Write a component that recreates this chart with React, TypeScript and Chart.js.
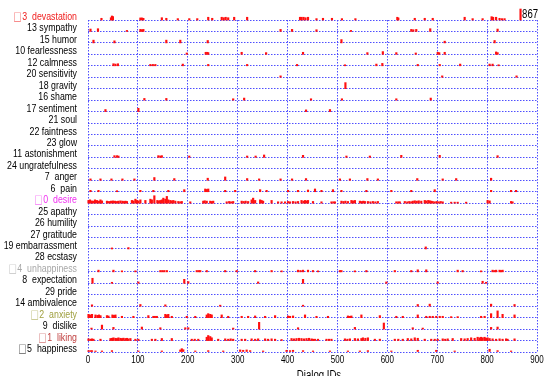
import { useEffect, useRef } from "react";
import { Chart, registerables } from "chart.js";

Chart.register(...registerables);

// Row labels, top to bottom
const emotionLabels: string[] = [
  "□3  devastation", "13 sympathy", "15 humor", "10 fearlessness", "12 calmness",
  "20 sensitivity", "18 gravity", "16 shame", "17 sentiment", "21 soul",
  "22 faintness", "23 glow", "11 astonishment", "24 ungratefulness", "7  anger",
  "6  pain", "□0  desire", "25 apathy", "26 humility", "27 gratitude",
  "19 embarrassment", "28 ecstasy", "□4  unhappiness", "8  expectation", "29 pride",
  "14 ambivalence", "□2  anxiety", "9  dislike", "□1  liking", "□5  happiness",
];
const labelColors: string[] = [
  "#f02020", "#000", "#000", "#000", "#000",
  "#000", "#000", "#000", "#000", "#000",
  "#000", "#000", "#000", "#000", "#000",
  "#000", "#f030f0", "#000", "#000", "#000",
  "#000", "#000", "#a8a8a8", "#000", "#000",
  "#000", "#a0a040", "#000", "#c04040", "#000",
];
const xTicks: number[] = [0, 100, 200, 300, 400, 500, 600, 700, 800, 900];
const xTitle = "Dialog IDs";
const lastDialogId = 867;
const lastMarkerHeight = 0.96;

// [dialog ID, intensity (fraction of row height)]
type Spike = [number, number];
const devastation: Spike[] = [[27,0.15],[46,0.2],[48,0.35],[50,0.3],[105,0.18],[108,0.18],[111,0.15],[148,0.2],[157,0.15],[180,0.12],[203,0.12],[219,0.12],[241,0.24],[249,0.15],[268,0.24],[272,0.2],[276,0.24],[281,0.2],[293,0.24],[319,0.24],[425,0.24],[428,0.24],[432,0.24],[436,0.2],[441,0.24],[458,0.12],[471,0.15],[489,0.15],[509,0.12],[536,0.12],[620,0.24],[622,0.18],[655,0.15],[675,0.15],[691,0.15],[755,0.24],[771,0.12],[791,0.12],[809,0.29],[812,0.24],[818,0.24],[825,0.15],[830,0.12],[835,0.12]];
const sympathy: Spike[] = [[5,0.21],[20,0.24],[78,0.09],[105,0.18],[108,0.15],[111,0.18],[386,0.18],[409,0.18],[458,0.15],[527,0.09],[648,0.18],[652,0.15],[658,0.18],[686,0.24],[821,0.21]];
const humor: Spike[] = [[11,0.24],[53,0.18],[157,0.24],[185,0.24],[240,0.21],[508,0.29],[715,0.15],[815,0.21]];
const fearlessness: Spike[] = [[198,0.12],[236,0.18],[239,0.18],[241,0.15],[308,0.18],[357,0.15],[431,0.18],[560,0.15],[591,0.24],[618,0.15],[657,0.12],[701,0.18],[704,0.15],[715,0.18],[818,0.21],[821,0.15]];
const calmness: Spike[] = [[51,0.18],[55,0.15],[60,0.18],[125,0.12],[130,0.12],[135,0.12],[190,0.15],[241,0.12],[319,0.12],[419,0.12],[515,0.09],[578,0.15],[590,0.21],[661,0.12],[705,0.12],[746,0.15],[805,0.15],[811,0.15],[823,0.09]];
const sensitivity: Spike[] = [[386,0.12],[710,0.12],[859,0.12]];
const gravity: Spike[] = [[516,0.53]];
const shame: Spike[] = [[113,0.15],[157,0.15],[291,0.12],[313,0.18],[447,0.12],[509,0.12],[618,0.12],[687,0.18]];
const sentiment: Spike[] = [[35,0.18],[101,0.29],[437,0.15],[485,0.18]];
const soul: Spike[] = [];
const faintness: Spike[] = [];
const glow: Spike[] = [];
const astonishment: Spike[] = [[53,0.15],[58,0.15],[61,0.12],[141,0.15],[145,0.12],[148,0.15],[203,0.12],[319,0.12],[336,0.12],[353,0.21],[431,0.18],[518,0.12],[565,0.12],[628,0.18],[705,0.18],[821,0.15]];
const ungratefulness: Spike[] = [];
const anger: Spike[] = [[5,0.12],[25,0.12],[47,0.12],[69,0.12],[93,0.12],[133,0.24],[173,0.15],[240,0.18],[275,0.29],[319,0.15],[343,0.12],[386,0.12],[409,0.12],[437,0.15],[505,0.12],[525,0.12],[560,0.15],[581,0.12],[660,0.15],[711,0.12],[738,0.15],[808,0.18]];
const pain: Spike[] = [[5,0.12],[21,0.12],[58,0.09],[105,0.12],[131,0.12],[161,0.12],[193,0.18],[235,0.24],[238,0.2],[241,0.24],[275,0.12],[295,0.12],[345,0.18],[358,0.12],[401,0.12],[421,0.12],[441,0.15],[455,0.24],[468,0.12],[491,0.18],[508,0.12],[558,0.12],[608,0.12],[648,0.12],[695,0.18],[808,0.12],[848,0.12],[858,0.12]];
const desire: Spike[] = [[1,0.24],[4,0.29],[7,0.2],[10,0.18],[14,0.29],[18,0.24],[22,0.18],[25,0.29],[28,0.2],[38,0.18],[42,0.15],[46,0.18],[50,0.2],[54,0.18],[58,0.15],[61,0.18],[65,0.2],[69,0.18],[72,0.15],[75,0.18],[78,0.15],[88,0.24],[91,0.2],[95,0.35],[98,0.24],[101,0.2],[105,0.29],[115,0.24],[125,0.35],[128,0.29],[133,0.65],[139,0.24],[142,0.2],[145,0.24],[148,0.29],[151,0.44],[155,0.35],[158,0.59],[161,0.29],[165,0.24],[168,0.2],[171,0.24],[175,0.18],[181,0.15],[185,0.12],[188,0.15],[205,0.12],[231,0.18],[234,0.21],[238,0.18],[245,0.18],[248,0.15],[251,0.18],[278,0.12],[283,0.15],[287,0.12],[291,0.15],[308,0.18],[312,0.15],[316,0.18],[321,0.15],[328,0.29],[331,0.44],[335,0.24],[345,0.29],[348,0.24],[351,0.18],[368,0.24],[381,0.12],[388,0.12],[395,0.12],[401,0.15],[405,0.12],[411,0.15],[416,0.12],[421,0.15],[428,0.24],[432,0.18],[435,0.24],[438,0.2],[441,0.24],[451,0.15],[468,0.12],[488,0.12],[492,0.12],[495,0.12],[508,0.18],[512,0.15],[516,0.18],[521,0.15],[528,0.24],[531,0.2],[535,0.24],[545,0.18],[549,0.15],[552,0.18],[555,0.15],[561,0.15],[566,0.12],[571,0.15],[576,0.12],[581,0.15],[618,0.12],[622,0.12],[625,0.12],[635,0.15],[640,0.12],[644,0.15],[648,0.12],[651,0.18],[655,0.21],[659,0.18],[663,0.21],[668,0.18],[675,0.24],[678,0.2],[682,0.24],[685,0.21],[688,0.18],[691,0.15],[695,0.12],[699,0.15],[703,0.12],[707,0.15],[711,0.12],[728,0.09],[735,0.09],[741,0.09],[758,0.09],[801,0.24],[805,0.2],[848,0.15],[851,0.12]];
const apathy: Spike[] = [];
const humility: Spike[] = [];
const gratitude: Spike[] = [];
const embarrassment: Spike[] = [[48,0.09],[81,0.12],[677,0.18]];
const ecstasy: Spike[] = [];
const unhappiness: Spike[] = [[21,0.15],[51,0.15],[68,0.09],[95,0.09],[145,0.12],[149,0.12],[153,0.12],[158,0.12],[218,0.12],[222,0.12],[225,0.12],[238,0.12],[275,0.12],[298,0.12],[335,0.12],[368,0.12],[388,0.09],[421,0.15],[426,0.12],[431,0.15],[441,0.15],[451,0.12],[461,0.09],[505,0.12],[508,0.12],[535,0.09],[558,0.12],[615,0.12],[648,0.12],[661,0.18],[678,0.18],[741,0.15],[751,0.12],[788,0.09],[811,0.15],[815,0.12],[818,0.15],[825,0.15],[828,0.12],[831,0.15]];
const expectation: Spike[] = [[9,0.44],[48,0.09],[101,0.12],[193,0.35],[201,0.15],[341,0.12],[431,0.35],[598,0.12],[701,0.12],[791,0.18],[798,0.09]];
const pride: Spike[] = [];
const ambivalence: Spike[] = [[8,0.12],[105,0.15],[155,0.12],[265,0.09],[431,0.09],[661,0.15],[685,0.18],[808,0.18],[855,0.15]];
const anxiety: Spike[] = [[1,0.29],[4,0.24],[8,0.29],[15,0.24],[19,0.2],[22,0.24],[25,0.18],[38,0.18],[41,0.15],[49,0.24],[52,0.2],[55,0.24],[68,0.12],[91,0.12],[121,0.18],[131,0.12],[134,0.12],[138,0.12],[155,0.29],[158,0.24],[161,0.29],[168,0.12],[198,0.12],[215,0.12],[238,0.24],[241,0.35],[245,0.29],[248,0.24],[268,0.24],[281,0.12],[308,0.12],[321,0.12],[335,0.15],[355,0.12],[375,0.18],[401,0.15],[405,0.12],[411,0.15],[435,0.24],[458,0.12],[481,0.12],[521,0.15],[525,0.12],[528,0.15],[548,0.24],[585,0.18],[618,0.12],[631,0.12],[661,0.24],[678,0.12],[685,0.12],[691,0.12],[698,0.12],[705,0.12],[711,0.12],[728,0.09],[741,0.09],[788,0.12],[795,0.12],[808,0.35],[821,0.59],[831,0.29],[855,0.24]];
const dislike: Spike[] = [[7,0.09],[28,0.35],[51,0.15],[108,0.18],[145,0.12],[195,0.12],[201,0.12],[291,0.09],[343,0.59],[421,0.12],[535,0.15],[593,0.53],[651,0.12],[671,0.09],[808,0.15],[821,0.18]];
const liking: Spike[] = [[1,0.15],[5,0.12],[8,0.15],[11,0.12],[25,0.12],[45,0.18],[48,0.2],[51,0.24],[55,0.2],[58,0.18],[61,0.24],[65,0.2],[68,0.18],[71,0.21],[75,0.18],[78,0.2],[81,0.15],[85,0.18],[95,0.12],[101,0.12],[128,0.12],[135,0.12],[148,0.18],[168,0.18],[208,0.12],[214,0.12],[221,0.12],[238,0.29],[241,0.44],[245,0.35],[248,0.24],[261,0.12],[275,0.15],[281,0.12],[286,0.15],[291,0.12],[308,0.12],[315,0.12],[328,0.15],[335,0.12],[341,0.15],[355,0.15],[361,0.12],[368,0.15],[375,0.12],[388,0.09],[408,0.18],[413,0.15],[418,0.18],[423,0.2],[428,0.18],[433,0.15],[438,0.18],[443,0.2],[448,0.15],[451,0.12],[455,0.12],[461,0.12],[478,0.12],[483,0.12],[488,0.12],[515,0.15],[520,0.12],[525,0.15],[535,0.18],[541,0.15],[548,0.18],[551,0.24],[556,0.2],[561,0.24],[575,0.12],[585,0.12],[615,0.12],[622,0.12],[631,0.12],[641,0.18],[648,0.15],[655,0.24],[661,0.2],[675,0.12],[688,0.12],[695,0.12],[701,0.12],[711,0.15],[716,0.12],[721,0.15],[731,0.18],[748,0.18],[755,0.15],[761,0.18],[768,0.24],[775,0.2],[781,0.29],[785,0.24],[788,0.29],[791,0.24],[795,0.29],[798,0.2],[801,0.24],[805,0.18],[811,0.15],[818,0.12],[825,0.15],[831,0.12],[838,0.15],[841,0.12],[855,0.15]];
const happiness: Spike[] = [[1,0.12],[5,0.12],[8,0.12],[15,0.09],[28,0.09],[48,0.12],[101,0.09],[148,0.09],[185,0.18],[188,0.29],[191,0.2],[215,0.09],[241,0.12],[271,0.09],[305,0.18],[311,0.15],[318,0.18],[325,0.12],[351,0.09],[398,0.15],[405,0.12],[411,0.15],[431,0.12],[451,0.09],[485,0.09],[521,0.09],[545,0.09],[561,0.12],[608,0.09],[661,0.15],[698,0.15],[735,0.09],[805,0.24],[821,0.12],[848,0.09]];

const rows: Spike[][] = [
  devastation, sympathy, humor, fearlessness, calmness,
  sensitivity, gravity, shame, sentiment, soul,
  faintness, glow, astonishment, ungratefulness, anger,
  pain, desire, apathy, humility, gratitude,
  embarrassment, ecstasy, unhappiness, expectation, pride,
  ambivalence, anxiety, dislike, liking, happiness,
];

const TOP = rows.length - 1;
const FONT = "'Liberation Sans', Arial, sans-serif";
const BOX_FONT = "'Noto Sans CJK JP', 'Liberation Sans', sans-serif";
const SQUEEZE = 0.8;
const BAR_RED = "#ff1010";
const GRID_BLUE = "rgba(70,70,255,0.95)";
const BOX = "□";

function narrowText(ctx: CanvasRenderingContext2D, text: string, x: number, y: number, size: number, color: string, align: CanvasTextAlign, baseline: CanvasTextBaseline, family: string = FONT): number {
  ctx.save();
  ctx.translate(x, y);
  ctx.scale(SQUEEZE, 1);
  ctx.font = `${size}px ${family}`;
  ctx.fillStyle = color;
  ctx.textAlign = align;
  ctx.textBaseline = baseline;
  ctx.fillText(text, 0, 0);
  const w = ctx.measureText(text).width * SQUEEZE;
  ctx.restore();
  return w;
}

const textPlugin = {
  id: "narrowLabels",
  afterDraw(chart: any) {
    const { ctx, scales, chartArea } = chart;
    const xs = scales.x;
    const ys = scales.y;
    emotionLabels.forEach((lab, i) => {
      const y = ys.getPixelForValue(TOP - i) - 3;
      const hasBox = lab.startsWith(BOX);
      const rest = hasBox ? lab.slice(1) : lab;
      const w = narrowText(ctx, rest, 77, y, 11, labelColors[i], "right", "middle");
      if (hasBox) {
        narrowText(ctx, BOX, 77 - w - 0.5, y, 10.5, labelColors[i], "right", "middle", BOX_FONT);
      }
    });
    xTicks.forEach((v) => {
      narrowText(ctx, String(v), xs.getPixelForValue(v), chartArea.bottom + 8.5, 10, "#000", "center", "middle");
    });
    narrowText(ctx, xTitle, 319, 378.5, 12, "#000", "center", "alphabetic");
    narrowText(ctx, String(lastDialogId), xs.getPixelForValue(lastDialogId) + 1.5, ys.getPixelForValue(TOP + 0.47), 12, "#000", "left", "middle");
  },
};

export default function App() {
  const ref = useRef<HTMLCanvasElement>(null);
  useEffect(() => {
    const datasets: any[] = rows.map((spikes, i) => ({
      label: emotionLabels[i],
      data: spikes.map(([id, v]) => ({ x: id, y: [TOP - i, TOP - i + v] })),
      backgroundColor: BAR_RED,
      borderWidth: 0,
      barThickness: 1.5,
      grouped: false,
      clip: false,
    }));
    datasets.push({
      label: "last",
      data: [{ x: lastDialogId, y: [TOP, TOP + lastMarkerHeight] }],
      backgroundColor: BAR_RED,
      borderWidth: 0,
      barThickness: 1.5,
      grouped: false,
      clip: false,
    });
    const chart = new Chart(ref.current!, {
      type: "bar",
      data: { datasets },
      options: {
        animation: false,
        responsive: false,
        events: [],
        layout: { padding: { top: 20, right: 7, left: 0, bottom: 0 } },
        plugins: { legend: { display: false }, tooltip: { enabled: false } },
        scales: {
          x: {
            type: "linear",
            min: 0,
            max: 900,
            offset: false,
            afterBuildTicks: (s: any) => {
              s.ticks = xTicks.map((v) => ({ value: v }));
            },
            afterFit: (s: any) => {
              s.height = 24;
              s.paddingLeft = 0;
              s.paddingRight = 0;
            },
            ticks: { display: false },
            grid: { color: GRID_BLUE, lineWidth: 1, drawTicks: false, offset: false },
            border: { display: false, dash: [1.5, 1.5] },
          },
          y: {
            type: "linear",
            min: 0,
            max: TOP,
            afterBuildTicks: (s: any) => {
              s.ticks = rows.map((_, i) => ({ value: TOP - i }));
            },
            afterFit: (s: any) => {
              s.width = 88;
              s.paddingTop = 0;
              s.paddingBottom = 0;
            },
            ticks: { display: false },
            grid: { color: GRID_BLUE, lineWidth: 1, drawTicks: false },
            border: { display: false, dash: [1.5, 1.5] },
          },
        },
      },
      plugins: [textPlugin],
    } as any);
    return () => chart.destroy();
  }, []);
  return (
    <div style={{ position: "fixed", left: 0, top: 0, width: 544, height: 376, background: "#fff" }}>
      <canvas ref={ref} width={544} height={376} style={{ display: "block" }} />
    </div>
  );
}
